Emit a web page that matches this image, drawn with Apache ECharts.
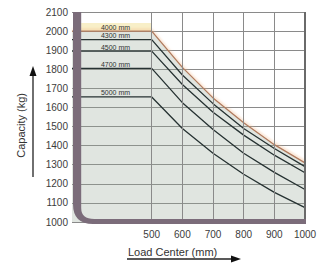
<!DOCTYPE html>
<html>
<head>
<meta charset="utf-8">
<script src="https://cdn.jsdelivr.net/npm/echarts@6/dist/echarts.min.js"></script>
<style>
html,body{margin:0;padding:0;background:#fff;}
#c{width:326px;height:263px;}
</style>
</head>
<body>
<div id="c"></div>
<script>
// Data
const loadCenter = [240, 500, 600, 700, 800, 900, 1000];
const cap4000 = [2000, 2000, 1810, 1650, 1520, 1405, 1310];
const cap4300 = [1955, 1955, 1770, 1620, 1490, 1385, 1290];
const cap4500 = [1895, 1895, 1720, 1575, 1455, 1350, 1258];
const cap4700 = [1805, 1805, 1625, 1485, 1360, 1260, 1170];
const cap5000 = [1655, 1655, 1490, 1360, 1250, 1155, 1075];
const liftHeights = ['4000 mm', '4300 mm', '4500 mm', '4700 mm', '5000 mm'];
const xTickLabels = [500, 600, 700, 800, 900, 1000];
const yMin = 1000, yMax = 2100, yStep = 100;
const xMin = 240, xMax = 1000;
const labelX = 382;
const mastX = 270;

const FONT = '"Liberation Sans", Arial, sans-serif';
const curves = [cap4000, cap4300, cap4500, cap4700, cap5000];

const chart = echarts.init(document.getElementById('c'), null, {renderer: 'svg'});

const series = curves.map((cap, i) => {
  const s = {
    type: 'line',
    name: liftHeights[i],
    data: loadCenter.map((x, k) => [x, cap[k]]),
    showSymbol: false,
    silent: true,
    z: 3,
    lineStyle: i === 0
      ? {color: '#b07a5e', width: 1.3, shadowColor: 'rgba(240,175,120,0.6)', shadowBlur: 2, shadowOffsetY: -1.5}
      : {color: '#263232', width: 1.3},
    markPoint: {
      symbol: 'circle', symbolSize: 1, silent: true,
      itemStyle: {color: 'rgba(0,0,0,0)'},
      label: {show: true, position: 'top', distance: 0, formatter: liftHeights[i],
        fontSize: 7, color: '#333', fontFamily: FONT},
      data: [{coord: [labelX, cap[0]]}]
    }
  };
  if (i === 0) {
    s.areaStyle = {color: 'rgba(150,165,150,0.42)', origin: 'start'};
    s.markArea = {
      silent: true,
      itemStyle: {color: '#f8efc8'},
      data: [[{coord: [mastX, cap[0]]}, {coord: [500, cap[0] + 43]}]]
    };
    s.markLine = {
      silent: true, symbol: 'none', label: {show: false},
      lineStyle: {color: '#8a8a8a', width: 1, type: 'solid'},
      data: xTickLabels.map(v => ({xAxis: v, lineStyle: v === xMax ? {color: '#6a6a6a', width: 2, type: 'solid'} : undefined}))
    };
  }
  return s;
});

// mast / fork decoration drawn through the axis scales
series.push({
  type: 'custom',
  silent: true,
  z: 5,
  data: [[xMin, yMax]],
  renderItem: function (params, api) {
    const tl = api.coord([xMin, yMax]);
    const tr = api.coord([mastX, yMax]);
    const br = api.coord([xMax, yMin]);
    const L = tl[0] + 1, T = tl[1], R = tr[0], right = br[0] + 1;
    const Bi = br[1] - 3, Bo = br[1] + 2;
    const p = 'M' + L + ' ' + T + ' L' + R + ' ' + T +
      ' L' + R + ' ' + (Bi - 11) +
      ' Q' + R + ' ' + Bi + ' ' + (R + 13) + ' ' + Bi +
      ' L' + right + ' ' + Bi + ' L' + right + ' ' + Bo +
      ' L' + (L + 20) + ' ' + Bo +
      ' Q' + L + ' ' + Bo + ' ' + L + ' ' + (Bo - 20) + ' Z';
    return {type: 'path', shape: {pathData: p}, style: {fill: '#7b6c7a', stroke: null}};
  }
});

chart.setOption({
  animation: false,
  backgroundColor: '#fff',
  grid: {left: 72, right: 21, top: 12, bottom: 41, containLabel: false},
  xAxis: {
    type: 'value', min: xMin, max: xMax,
    axisLine: {show: false}, axisTick: {show: false}, splitLine: {show: false},
    axisLabel: {customValues: xTickLabels, formatter: v => String(v), fontSize: 10, color: '#3c3c3c', fontFamily: FONT, margin: 7}
  },
  yAxis: {
    type: 'value', min: yMin, max: yMax, interval: yStep,
    axisLine: {show: false}, axisTick: {show: false},
    splitLine: {show: true, lineStyle: {color: '#8a8a8a', width: 1}},
    axisLabel: {formatter: v => String(v), fontSize: 10, color: '#3c3c3c', fontFamily: FONT, margin: 4, padding: [0, 0, 8, 0]}
  },
  graphic: [
    {type: 'text', left: 15, top: 93, rotation: Math.PI / 2,
      style: {text: 'Capacity (kg)', fontSize: 11, fill: '#333', fontFamily: FONT}},
    {type: 'text', x: 128, y: 246,
      style: {text: 'Load Center (mm)', fontSize: 11, fill: '#333', fontFamily: FONT}},
    {type: 'line', shape: {x1: 33, y1: 177, x2: 33, y2: 74}, style: {stroke: '#222', lineWidth: 1.3}},
    {type: 'polygon', shape: {points: [[33, 66], [29.5, 76], [36.5, 76]]}, style: {fill: '#111'}},
    {type: 'line', shape: {x1: 127, y1: 259, x2: 233, y2: 259}, style: {stroke: '#222', lineWidth: 1.3}},
    {type: 'polygon', shape: {points: [[241, 259], [231, 255.5], [231, 262.5]]}, style: {fill: '#111'}}
  ],
  series: series
});
</script>
</body>
</html>
